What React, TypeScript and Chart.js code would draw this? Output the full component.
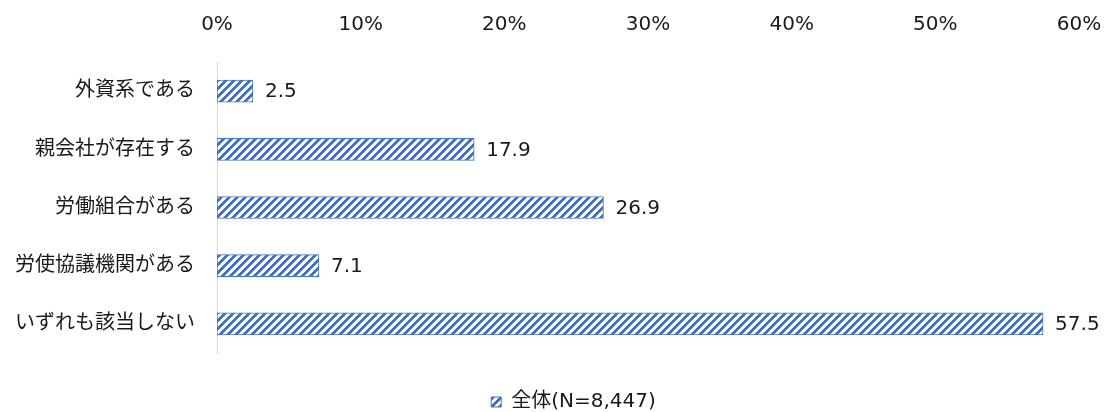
import React, { useEffect, useRef } from "react";
import { Chart, registerables } from "chart.js";

Chart.register(...registerables);

const categories = [
  "外資系である",
  "親会社が存在する",
  "労働組合がある",
  "労使協議機関がある",
  "いずれも該当しない",
];
const values = [2.5, 17.9, 26.9, 7.1, 57.5];
const seriesLabel = "全体(N=8,447)";
const xTicks = [0, 10, 20, 30, 40, 50, 60];

const BLUE = "#4472C4";
const TEXT = "#1a1a1a";
const FONT = "'DejaVu Sans', 'Noto Sans CJK JP', sans-serif";

function makePattern(): CanvasPattern | string {
  const c = document.createElement("canvas");
  c.width = 8;
  c.height = 8;
  const ctx = c.getContext("2d");
  if (!ctx) return BLUE;
  ctx.fillStyle = "#ffffff";
  ctx.fillRect(0, 0, 8, 8);
  ctx.fillStyle = BLUE;
  for (let x = 0; x < 8; x++) {
    for (let y = 0; y < 8; y++) {
      if ((x + y) % 8 < 4) ctx.fillRect(x, y, 1, 1);
    }
  }
  const p = ctx.createPattern(c, "repeat");
  return p || BLUE;
}

const valueLabels = {
  id: "valueLabels",
  afterDatasetsDraw(chart: any) {
    const ctx = chart.ctx;
    ctx.save();
    ctx.font = `20px ${FONT}`;
    ctx.fillStyle = TEXT;
    ctx.textAlign = "left";
    ctx.textBaseline = "middle";
    chart.data.datasets.forEach((ds: any, i: number) => {
      const meta = chart.getDatasetMeta(i);
      meta.data.forEach((bar: any, j: number) => {
        ctx.fillText(String(ds.data[j]), bar.x + 12, bar.y + 1);
      });
    });
    ctx.restore();
  },
};

const legendShift = {
  id: "legendShift",
  afterLayout(chart: any) {
    if (chart.legend) chart.legend.left += 40;
  },
};

export default function App() {
  const ref = useRef<HTMLCanvasElement | null>(null);
  useEffect(() => {
    document.body.style.margin = "0";
    if (!ref.current) return;
    const pattern = makePattern();
    const chart = new Chart(ref.current, {
      type: "bar",
      data: {
        labels: categories,
        datasets: [
          {
            label: seriesLabel,
            data: values,
            backgroundColor: pattern as any,
            borderColor: BLUE,
            borderWidth: 1,
            borderSkipped: false,
            barThickness: 22,
          },
        ],
      },
      options: {
        indexAxis: "y",
        animation: false,
        responsive: false,
        maintainAspectRatio: false,
        layout: { padding: { top: 0, right: 0, bottom: -10, left: 0 } },
        scales: {
          x: {
            position: "top",
            min: 0,
            max: 60,
            afterBuildTicks: (scale: any) => {
              scale.ticks = xTicks.map((v) => ({ value: v }));
            },
            afterFit: (scale: any) => {
              scale.height = 62;
              scale.paddingRight = 28;
              scale.paddingLeft = 0;
            },
            grid: { display: false, drawTicks: false },
            border: { display: false },
            ticks: {
              padding: 25,
              color: TEXT,
              font: { size: 20, family: FONT },
              callback: (v: any) => `${v}%`,
            },
          },
          y: {
            afterFit: (scale: any) => {
              scale.width = 217;
            },
            grid: { display: false, drawTicks: false },
            border: { display: true, color: "#d9d9d9", width: 1 },
            ticks: {
              padding: 22,
              color: TEXT,
              font: { size: 20, family: FONT },
            },
          },
        },
        plugins: {
          legend: {
            position: "bottom",
            labels: {
              boxWidth: 10,
              boxHeight: 10,
              padding: 39,
              color: TEXT,
              font: { size: 20, family: FONT },
            },
          },
          tooltip: { enabled: false },
        },
      },
      plugins: [valueLabels, legendShift],
    });
    return () => chart.destroy();
  }, []);
  return (
    <div style={{ position: "absolute", left: 0, top: 0, width: 1107, height: 412 }}>
      <canvas ref={ref} width={1107} height={412} style={{ width: 1107, height: 412 }} />
    </div>
  );
}
